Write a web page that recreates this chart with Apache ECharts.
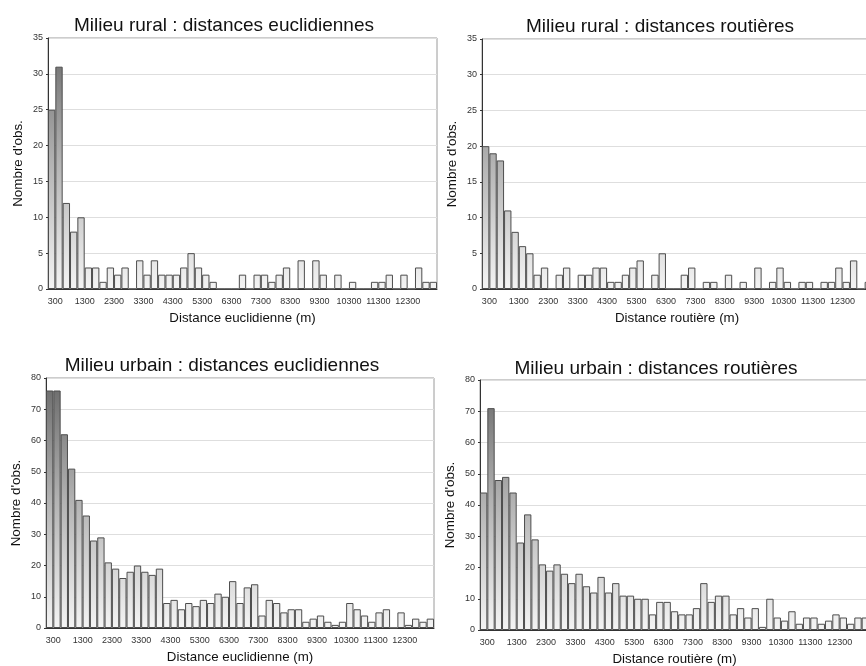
<!DOCTYPE html>
<html>
<head>
<meta charset="utf-8">
<title>Distances rural / urbain</title>
<script src="https://cdn.jsdelivr.net/npm/echarts@6/dist/echarts.min.js"></script>
<style>
    html, body { margin: 0; padding: 0; background: #fff; }
    #main { width: 866px; height: 666px; }
</style>
</head>
<body>
<div id="main"></div>
<script>
//classes de distance (m), pas de 250 m
var classes = [300, 550, 800, 1050, 1300, 1550, 1800, 2050, 2300, 2550, 2800, 3050,
    3300, 3550, 3800, 4050, 4300, 4550, 4800, 5050, 5300, 5550, 5800, 6050,
    6300, 6550, 6800, 7050, 7300, 7550, 7800, 8050, 8300, 8550, 8800, 9050,
    9300, 9550, 9800, 10050, 10300, 10550, 10800, 11050, 11300, 11550, 11800, 12050,
    12300, 12550, 12800, 13050, 13300];

//nombre d'observations par classe
var ruralEucl = [25, 31, 12, 8, 10, 3, 3, 1, 3, 2, 3, 0, 4, 2, 4, 2, 2, 2, 3, 5, 3, 2, 1, 0, 0, 0,
    2, 0, 2, 2, 1, 2, 3, 0, 4, 0, 4, 2, 0, 2, 0, 1, 0, 0, 1, 1, 2, 0, 2, 0, 3, 1, 1];
var ruralRout = [20, 19, 18, 11, 8, 6, 5, 2, 3, 0, 2, 3, 0, 2, 2, 3, 3, 1, 1, 2, 3, 4, 0, 2, 5, 0,
    0, 2, 3, 0, 1, 1, 0, 2, 0, 1, 0, 3, 0, 1, 3, 1, 0, 1, 1, 0, 1, 1, 3, 1, 4, 0, 1];
var urbainEucl = [76, 76, 62, 51, 41, 36, 28, 29, 21, 19, 16, 18, 20, 18, 17, 19, 8, 9, 6, 8, 7, 9, 8, 11, 10, 15,
    8, 13, 14, 4, 9, 8, 5, 6, 6, 2, 3, 4, 2, 1, 2, 8, 6, 4, 2, 5, 6, 0, 5, 1, 3, 2, 3];
var urbainRout = [44, 71, 48, 49, 44, 28, 37, 29, 21, 19, 21, 18, 15, 18, 14, 12, 17, 12, 15, 11, 11, 10, 10, 5, 9, 9,
    6, 5, 5, 7, 15, 9, 11, 11, 5, 7, 4, 7, 1, 10, 4, 3, 6, 2, 4, 4, 2, 3, 5, 4, 2, 4, 4];

var titres = ['Milieu rural : distances euclidiennes', 'Milieu rural : distances routières',
    'Milieu urbain : distances euclidiennes', 'Milieu urbain : distances routières'];
var nomsX = ['Distance euclidienne (m)', 'Distance routière (m)',
    'Distance euclidienne (m)', 'Distance routière (m)'];
var nomY = "Nombre d'obs.";
var maxY = [35, 35, 80, 80];
var pasY = [5, 5, 10, 10];

var police = 'Liberation Sans, Arial, sans-serif';

//position des zones de tracé (px) - celles de droite dépassent le cadre
var zones = [
    { left: 48, top: 38, width: 389, height: 251 },
    { left: 482, top: 39, width: 390, height: 250 },
    { left: 46, top: 378, width: 388, height: 250 },
    { left: 480, top: 380, width: 389, height: 250 }
];
//position des titres
var posTitres = [[219, 11], [655, 12], [217, 351], [651, 354]];

var donnees = [ruralEucl, ruralRout, urbainEucl, urbainRout];

var myChart = echarts.init(document.getElementById('main'), null, { renderer: 'canvas' });

var grids = [], xAxes = [], yAxes = [], series = [], titles = [];

for (var i = 0; i < 4; i++) {
    var z = zones[i];
    grids.push({
        left: z.left, top: z.top, width: z.width, height: z.height,
        outerBoundsMode: 'none',
        show: true,
        borderColor: '#9a9a9a',
        borderWidth: 1,
        backgroundColor: 'transparent'
    });
    titles.push({
        text: titres[i],
        left: posTitres[i][0],
        top: posTitres[i][1],
        textAlign: 'center',
        textStyle: { fontFamily: police, fontSize: 19, fontWeight: 'normal', color: '#111' }
    });
    xAxes.push({
        type: 'category',
        gridIndex: i,
        data: classes,
        boundaryGap: true,
        name: nomsX[i],
        nameLocation: 'middle',
        nameGap: 23,
        nameTextStyle: { fontFamily: police, fontSize: 13.3, color: '#111', verticalAlign: 'top' },
        axisLine: { lineStyle: { color: '#333', width: 1 } },
        axisTick: {
            length: 3,
            interval: function (idx) { return idx % 3 === 0; },
            lineStyle: { color: '#333' }
        },
        axisLabel: {
            //étiquette toutes les 4 classes, décalée sur la limite de classe
            interval: function (idx) { return idx % 4 === 0 && idx < 52; },
            fontFamily: police,
            fontSize: 9,
            color: '#333',
            margin: 8,
            padding: [0, 0, 0, 7.4]
        },
        splitLine: { show: false }
    });
    yAxes.push({
        type: 'value',
        gridIndex: i,
        min: 0,
        max: maxY[i],
        interval: pasY[i],
        name: nomY,
        nameLocation: 'middle',
        nameRotate: 90,
        nameGap: 23,
        nameTextStyle: { fontFamily: police, fontSize: 13.4, color: '#111' },
        axisLine: { show: true, lineStyle: { color: '#333', width: 1 } },
        axisTick: { show: true, length: 2, lineStyle: { color: '#333' } },
        axisLabel: { fontFamily: police, fontSize: 9, color: '#333', margin: 5 },
        splitLine: { show: true, lineStyle: { color: '#dedede', width: 1 } }
    });
    //dégradé global : foncé en haut de la zone, clair en bas
    series.push({
        type: 'bar',
        xAxisIndex: i,
        yAxisIndex: i,
        data: donnees[i],
        barCategoryGap: 0,
        itemStyle: {
            color: new echarts.graphic.LinearGradient(0, z.top, 0, z.top + z.height, [
                { offset: 0, color: '#686868' },
                { offset: 0.5, color: '#b4b4b4' },
                { offset: 1, color: '#f4f4f4' }
            ], true),
            borderColor: '#4d4d4d',
            borderWidth: 1
        },
        animation: false
    });
}

var option = {
    backgroundColor: '#ffffff',
    animation: false,
    title: titles,
    grid: grids,
    xAxis: xAxes,
    yAxis: yAxes,
    series: series
};

myChart.setOption(option);
</script>
</body>
</html>
